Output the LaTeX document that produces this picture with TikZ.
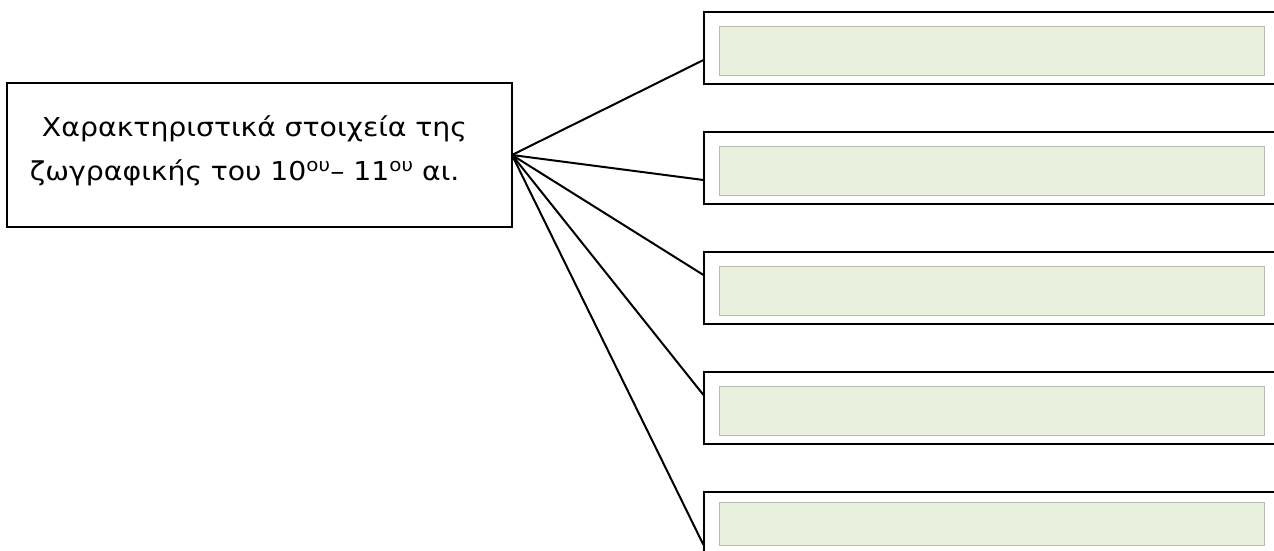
\documentclass[tikz,border=0pt]{standalone}
\usepackage{fontspec}
\setmainfont[FakeStretch=1.09]{DejaVu Sans}
\definecolor{fieldgreen}{RGB}{233,241,222}
\definecolor{fieldrim}{RGB}{184,188,176}
\begin{document}
\begin{tikzpicture}
  [x=1pt,y=-1pt
  ,topic/.style={rectangle,draw=black,line width=2pt,anchor=north west,inner xsep=23pt,outer sep=0pt,minimum width=505pt,minimum height=144pt,text width=459pt,align=left,font=\fontsize{26}{44}\selectfont}
  ,answer/.style={rectangle,draw=black,line width=2pt,anchor=north west,inner sep=0pt,outer sep=0pt,minimum width=600pt,minimum height=72pt}
  ,field/.style={rectangle,fill=fieldgreen,draw=fieldrim,line width=1pt,anchor=north west,inner sep=0pt,minimum width=545pt,minimum height=49pt}]
\useasboundingbox (0,0) rectangle (1274,550);
\node at (7,83) (topic) [topic] {\hspace*{12pt}Χαρακτηριστικά στοιχεία της\\ζωγραφικής του 10\textsuperscript{ου}– 11\textsuperscript{ου} αι.\rule[-14pt]{0pt}{1pt}};
%
\node at (703.5,12)  (b1) [answer] {};
\node at (703.5,132) (b2) [answer] {};
\node at (703.5,252) (b3) [answer] {};
\node at (703.5,372) (b4) [answer] {};
\node at (703.5,492) (b5) [answer] {};
\node at (719,25.5)  (f1) [field] {};
\node at (719,145.5) (f2) [field] {};
\node at (719,265.5) (f3) [field] {};
\node at (719,385.5) (f4) [field] {};
\node at (719,502)   (f5) [field,minimum height=43pt] {};
%
\draw [line width=2pt] (topic.east) -- ([yshift=-48pt]b1.north west);
\draw [line width=2pt] (topic.east) -- ([yshift=-48pt]b2.north west);
\draw [line width=2pt] (topic.east) -- ([yshift=-23pt]b3.north west);
\draw [line width=2pt] (topic.east) -- ([yshift=-23pt]b4.north west);
\draw [line width=2pt] (topic.east) -- ([yshift=-53pt]b5.north west);
\end{tikzpicture}
\end{document}
